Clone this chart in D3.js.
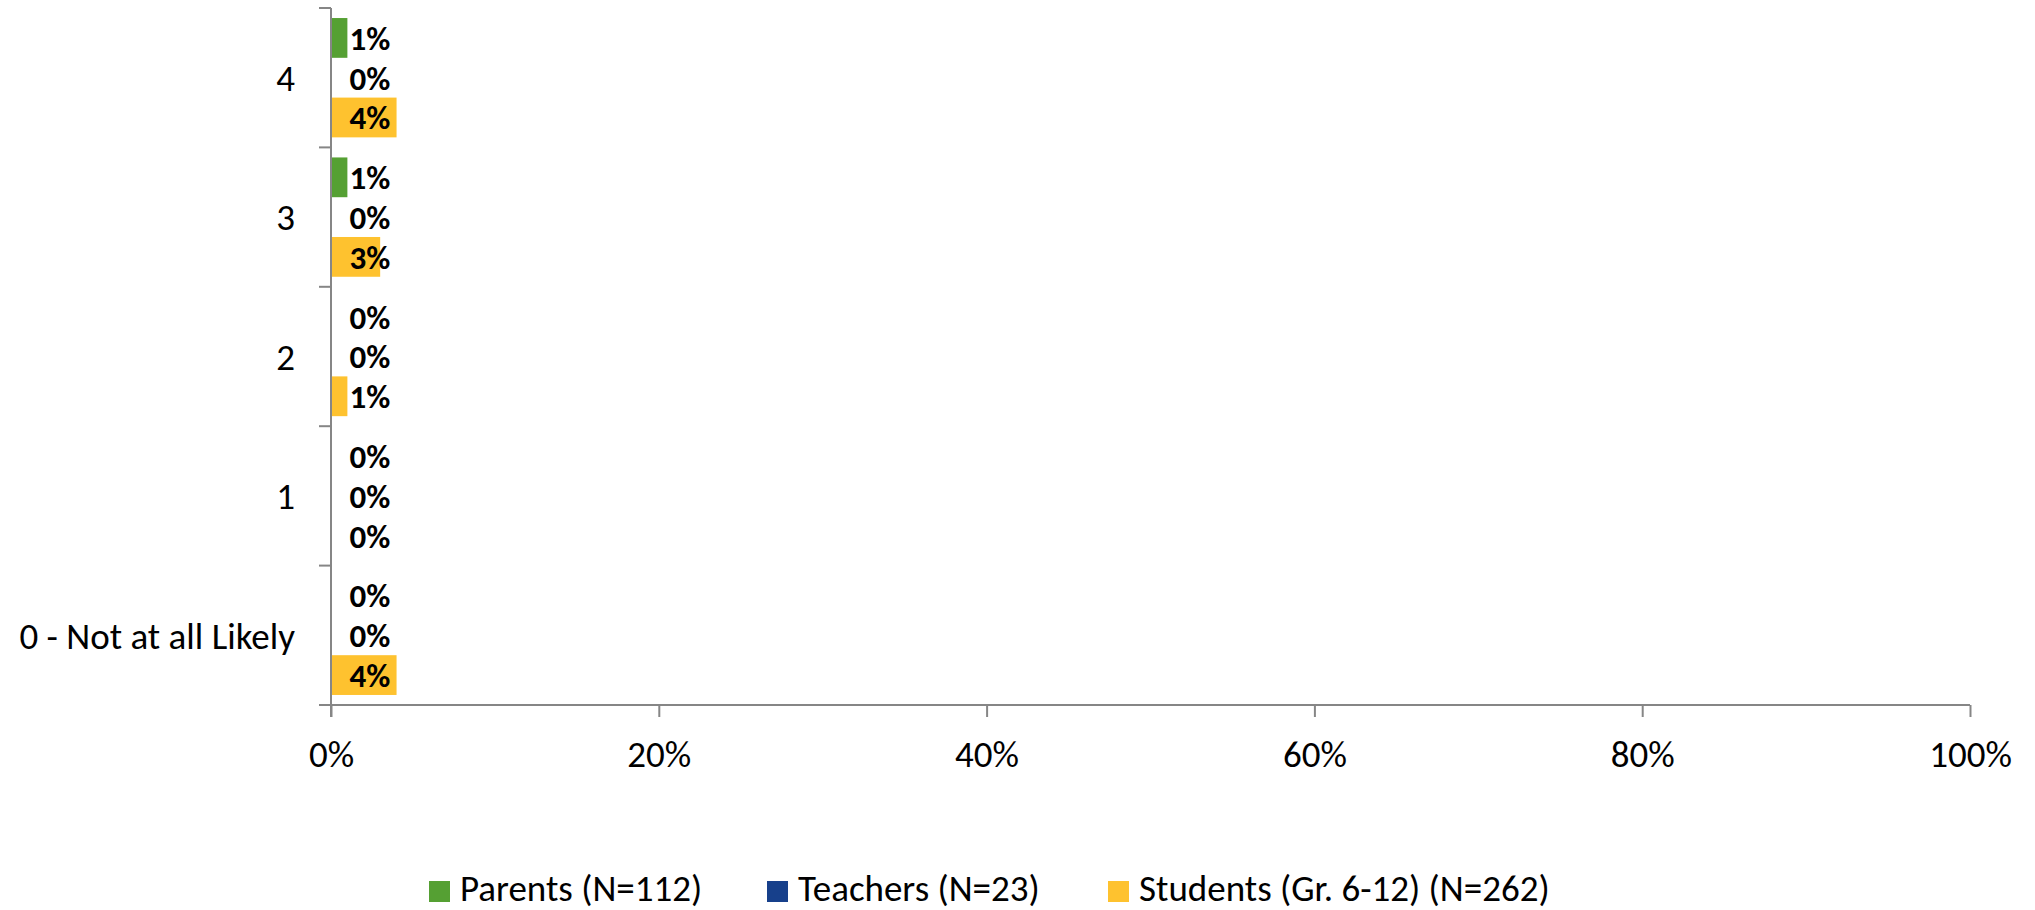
<!DOCTYPE html>
<html>
<head>
<meta charset="utf-8">
<script src="https://cdn.jsdelivr.net/npm/d3@7"></script>
<style>
  html, body { margin: 0; padding: 0; background: #fff; }
  svg { display: block; }
  text { font-family: Carlito, Calibri, Lato, sans-serif; }
</style>
</head>
<body>
<svg id="chart" width="2035" height="910"></svg>
<script>
const categories = ["4", "3", "2", "1", "0 - Not at all Likely"];
const seriesNames = ["Parents (N=112)", "Teachers (N=23)", "Students (Gr. 6-12) (N=262)"];
const seriesColors = ["#55A033", "#17408B", "#FEC22F"];
const parents  = [1, 1, 0, 0, 0];
const teachers = [0, 0, 0, 0, 0];
const students = [4, 3, 1, 0, 4];
const xTicks = [0, 20, 40, 60, 80, 100];

const seriesValues = [parents, teachers, students];
const svg = d3.select("#chart");
const axisColor = "#868686";
const fs = 37;
const labelFs = 33;

const x = d3.scaleLinear().domain([0, 100]).range([331, 1970]);
const y = d3.scaleBand().domain(categories).range([8, 705]).padding(0);
const bw = y.bandwidth();
const ys = d3.scaleBand().domain(seriesNames).range([bw * 0.072, bw * (1 - 0.072)]).padding(0);

// bars
categories.forEach((c, ci) => {
  const g = svg.append("g").attr("transform", `translate(0,${y(c)})`);
  seriesNames.forEach((s, si) => {
    const v = seriesValues[si][ci];
    g.append("rect")
      .attr("x", x(0))
      .attr("y", ys(s))
      .attr("width", x(v) - x(0))
      .attr("height", ys.bandwidth())
      .attr("fill", seriesColors[si]);
    g.append("text")
      .attr("x", x(0) + 39)
      .attr("y", ys(s) + ys.bandwidth() / 2)
      .attr("dy", "0.36em")
      .attr("text-anchor", "middle")
      .attr("font-weight", "bold")
      .attr("font-size", labelFs)
      .attr("fill", "#000")
      .text(v + "%");
  });
});

// y axis
const yAxisG = svg.append("g");
yAxisG.append("line")
  .attr("x1", x(0)).attr("x2", x(0))
  .attr("y1", y.range()[0]).attr("y2", y.range()[1] + 12)
  .attr("stroke", axisColor).attr("stroke-width", 2);
const bounds = categories.map(c => y(c)).concat([y.range()[1]]);
yAxisG.selectAll("line.tick").data(bounds).join("line")
  .attr("class", "tick")
  .attr("x1", x(0) - 12).attr("x2", x(0))
  .attr("y1", d => d).attr("y2", d => d)
  .attr("stroke", axisColor).attr("stroke-width", 2);
yAxisG.selectAll("text").data(categories).join("text")
  .attr("x", 295)
  .attr("y", d => y(d) + bw / 2)
  .attr("dy", "0.36em")
  .attr("text-anchor", "end")
  .attr("font-size", fs)
  .attr("fill", "#000")
  .text(d => d);

// x axis
const xAxis = d3.axisBottom(x).tickValues(xTicks).tickSize(12).tickPadding(24).tickFormat(d => d + "%");
const xg = svg.append("g").attr("transform", `translate(0,705)`).call(xAxis);
xg.select(".domain").attr("stroke", axisColor).attr("stroke-width", 2)
  .attr("d", `M${x(0) - 12},0H${x(100)}`);
xg.selectAll(".tick line").attr("stroke", axisColor).attr("stroke-width", 2);
xg.selectAll(".tick text").attr("font-size", fs).attr("fill", "#000")
  .style("font-family", "Carlito, Calibri, Lato, sans-serif");

// legend
const legendX = [429, 767, 1108];
const lg = svg.append("g");
seriesNames.forEach((s, i) => {
  lg.append("rect").attr("x", legendX[i]).attr("y", 881).attr("width", 21).attr("height", 21).attr("fill", seriesColors[i]);
  lg.append("text").attr("x", legendX[i] + 31).attr("y", 900.5)
    .attr("font-size", fs).attr("fill", "#000").text(s);
});
</script>
</body>
</html>
